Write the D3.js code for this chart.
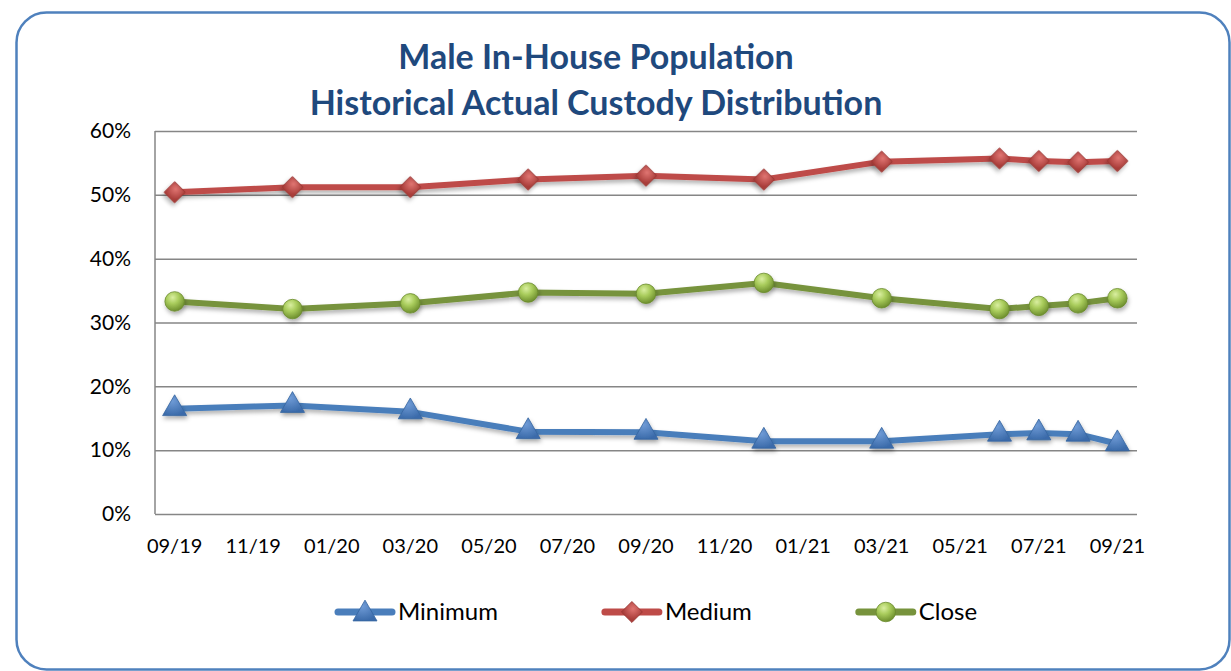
<!DOCTYPE html>
<html>
<head>
<meta charset="utf-8">
<script src="https://cdn.jsdelivr.net/npm/d3@7"></script>
<style>
  html, body { margin: 0; padding: 0; background: #fff; }
  svg { display: block; }
</style>
</head>
<body>
<svg width="1231" height="671"></svg>
<script>
// data
const dates = ['09/19', '12/19', '03/20', '06/20', '09/20', '12/20', '03/21', '06/21', '07/21', '08/21', '09/21'];
const minimum = [16.5, 17.0, 16.0, 12.9, 12.8, 11.4, 11.4, 12.5, 12.7, 12.5, 11.0];
const medium  = [50.4, 51.2, 51.2, 52.4, 53.0, 52.4, 55.2, 55.7, 55.3, 55.1, 55.3];
const close   = [33.3, 32.1, 33.0, 34.7, 34.5, 36.2, 33.8, 32.1, 32.6, 33.0, 33.8];
const yTicks = [0, 10, 20, 30, 40, 50, 60];
const xTickLabels = ['09/19', '11/19', '01/20', '03/20', '05/20', '07/20', '09/20', '11/20', '01/21', '03/21', '05/21', '07/21', '09/21'];

const series = [
  { name: 'Minimum', values: minimum, line: '#4A7EBB', marker: 'triangle' },
  { name: 'Medium', values: medium, line: '#BE4B48', marker: 'diamond' },
  { name: 'Close', values: close, line: '#77933C', marker: 'circle' }
];

const margin = { top: 131, right: 94, bottom: 157, left: 155 };
const width = 1231, height = 671;

// every month on the date axis gets one slot
const fmt = d3.utcFormat('%m/%y');
const parse = d3.utcParse('%m/%y');
const allMonths = d3.utcMonths(parse('09/19'), d3.utcMonth.offset(parse('09/21'), 1)).map(fmt);

const x = d3.scaleBand()
  .domain(allMonths)
  .range([margin.left, width - margin.right]);
const xc = d => x(d) + x.bandwidth() / 2;

const y = d3.scaleLinear()
  .domain([0, 60])
  .range([height - margin.bottom, margin.top]);

const svg = d3.select('svg');
const defs = svg.append('defs');

const shadow = defs.append('filter').attr('id', 'shadow')
  .attr('x', '-50%').attr('y', '-50%').attr('width', '200%').attr('height', '200%');
shadow.append('feDropShadow')
  .attr('dx', 1).attr('dy', 3).attr('stdDeviation', 2)
  .attr('flood-color', '#000').attr('flood-opacity', 0.3);

function grad(id, stops) {
  const g = defs.append('radialGradient').attr('id', id)
    .attr('cx', '40%').attr('cy', '30%').attr('r', '70%');
  stops.forEach(s => g.append('stop').attr('offset', s[0]).attr('stop-color', s[1]));
}
grad('g-triangle', [[0, '#6F9BD6'], [1, '#3B6BAA']]);
grad('g-diamond', [[0, '#E07572'], [1, '#A93D3A']]);
grad('g-circle', [[0, '#D9EEA0'], [0.45, '#A9CC5C'], [1, '#6E8F2E']]);

const strokeOf = { triangle: '#35659F', diamond: '#9A3633', circle: '#6A8A2C' };
const shapeOf = {
  triangle: d3.symbol(d3.symbolTriangle, 250)(),
  diamond: d3.symbol(d3.symbolSquare, 220)(),
  circle: d3.symbol(d3.symbolCircle, 300)()
};
const rotOf = { triangle: 0, diamond: 45, circle: 0 };

// outer rounded frame
svg.append('rect')
  .attr('x', 16.5).attr('y', 12.5)
  .attr('width', 1213).attr('height', 657)
  .attr('rx', 30).attr('ry', 30)
  .attr('fill', '#fff')
  .attr('stroke', '#4F81BD')
  .attr('stroke-width', 2.5);

// title
svg.append('text')
  .attr('x', 596).attr('y', 69)
  .attr('text-anchor', 'middle')
  .attr('font-family', 'Lato, sans-serif')
  .attr('font-weight', 'bold')
  .attr('font-size', 34)
  .attr('fill', '#1F497D')
  .selectAll('tspan')
  .data(['Male In-House Population', 'Historical Actual Custody Distribution'])
  .join('tspan')
  .attr('x', 596)
  .attr('dy', (d, i) => i === 0 ? 0 : 46)
  .text(d => d);

// gridlines and y axis
svg.append('g')
  .attr('transform', `translate(${margin.left},0)`)
  .call(d3.axisLeft(y).tickValues(yTicks).tickSize(-(width - margin.left - margin.right)).tickFormat(d => d + '%'))
  .call(g => g.select('.domain').remove())
  .call(g => g.selectAll('.tick line').attr('stroke', '#868686').attr('stroke-width', 1.5))
  .call(g => g.selectAll('.tick text')
    .attr('x', -24)
    .attr('font-family', 'Lato, sans-serif')
    .attr('font-size', 21)
    .attr('fill', '#000'));

svg.append('line')
  .attr('x1', margin.left).attr('x2', margin.left)
  .attr('y1', y(60)).attr('y2', y(0))
  .attr('stroke', '#868686').attr('stroke-width', 1.5);

// x axis
svg.append('g')
  .attr('transform', `translate(0,${y(0)})`)
  .call(d3.axisBottom(x).tickValues(xTickLabels).tickSize(0).tickPadding(25))
  .call(g => g.select('.domain').remove())
  .call(g => g.selectAll('.tick text')
    .attr('font-family', 'Lato, sans-serif')
    .attr('font-size', 20)
    .attr('fill', '#000'));

// lines and markers
const line = d3.line().x(d => xc(d.date)).y(d => y(d.value));

series.forEach(s => {
  const pts = dates.map((d, i) => ({ date: d, value: s.values[i] }));
  svg.append('path')
    .datum(pts)
    .attr('fill', 'none')
    .attr('stroke', s.line)
    .attr('stroke-width', 6)
    .attr('stroke-linejoin', 'round')
    .attr('filter', 'url(#shadow)')
    .attr('d', line);
  svg.append('g')
    .selectAll('path')
    .data(pts)
    .join('path')
    .attr('transform', d => `translate(${xc(d.date)},${y(d.value)}) rotate(${rotOf[s.marker]})`)
    .attr('d', shapeOf[s.marker])
    .attr('fill', `url(#g-${s.marker})`)
    .attr('stroke', strokeOf[s.marker])
    .attr('stroke-width', 0.8)
    .attr('filter', 'url(#shadow)');
});

// legend: items laid out one after the other with a fixed gap
const legend = svg.append('g')
  .selectAll('g')
  .data(series)
  .join('g');

legend.append('line')
  .attr('x1', 3).attr('x2', 57)
  .attr('stroke', d => d.line)
  .attr('stroke-width', 7)
  .attr('stroke-linecap', 'round');
legend.append('path')
  .attr('transform', d => `translate(30,${d.marker === 'triangle' ? 2 : 0}) rotate(${rotOf[d.marker]})`)
  .attr('d', d => shapeOf[d.marker])
  .attr('fill', d => `url(#g-${d.marker})`)
  .attr('stroke', d => strokeOf[d.marker])
  .attr('stroke-width', 0.8);
legend.append('text')
  .attr('x', 63).attr('y', 8)
  .attr('font-family', 'Lato, sans-serif')
  .attr('font-size', 24)
  .attr('fill', '#000')
  .text(d => d.name);

let lx = 335;
legend.each(function () {
  const w = 63 + this.querySelector('text').getComputedTextLength();
  d3.select(this).attr('transform', `translate(${lx},612)`);
  lx += w + 104;
});
</script>
</body>
</html>
